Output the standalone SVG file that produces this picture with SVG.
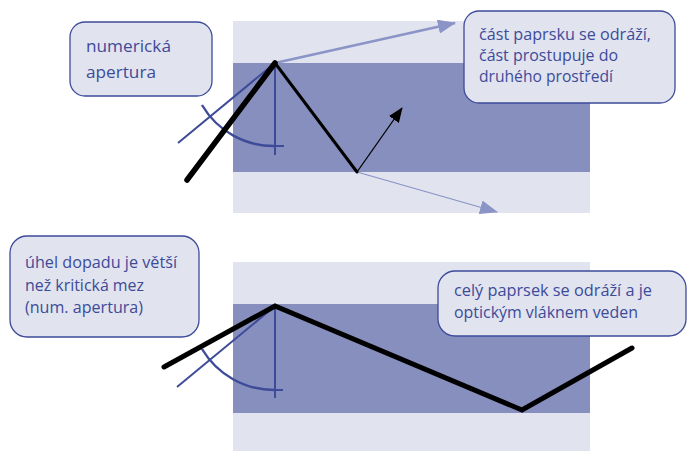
<svg xmlns="http://www.w3.org/2000/svg" width="687" height="451" viewBox="0 0 687 451">
<style>
.light{fill:#e1e3ef}
.dark{fill:#868fbd}
.box{fill:#e1e3ef;stroke:#3d4b99;stroke-width:1.3}
.t{font-family:"Open Sans","Noto Sans",sans-serif;fill:#3d4b99}
.t1{font-size:17px}
.t2{font-size:16px}
.ray{stroke:#000;fill:none;stroke-linecap:round;stroke-linejoin:miter}
.geo{stroke:#3d4b99;fill:none;stroke-width:2}
.geo1{stroke:#3d4b99;fill:none;stroke-width:2.4}
.refl{stroke:#8a94c6;fill:none}
</style>
<defs>
<marker id="ah" markerWidth="15" markerHeight="12" refX="14" refY="6" orient="auto" markerUnits="userSpaceOnUse" viewBox="0 0 15 12"><path d="M0,0 L15,6 L0,12 Z" fill="#000"/></marker>
<marker id="ahl" markerWidth="18" markerHeight="14" refX="17" refY="7" orient="auto" markerUnits="userSpaceOnUse" viewBox="0 0 18 14"><path d="M0,0 L18,7 L0,14 Z" fill="#8a94c6"/></marker>
</defs>
<g id="fiber-top">
<rect class="light" x="233" y="21" width="357" height="192"/>
<rect class="dark" x="233" y="63" width="357" height="109"/>
</g>
<g id="fiber-bottom">
<rect class="light" x="233" y="262" width="357" height="189"/>
<rect class="dark" x="233" y="304" width="357" height="109"/>
</g>
<g id="connectors">
<line class="refl" x1="275" y1="63" x2="455" y2="23" stroke-width="2.5" marker-end="url(#ahl)"/>
<line class="refl" x1="357" y1="172" x2="497" y2="212" stroke-width="1.3" marker-end="url(#ahl)"/>
<line class="geo" x1="178" y1="143" x2="275" y2="63"/>
<line class="geo" x1="275" y1="63" x2="275" y2="155"/>
<line class="geo" x1="270" y1="146" x2="284" y2="146"/>
<path class="geo1" d="M202,105 A83,83 0 0 0 275,146"/>
<polyline class="ray" points="187,180 275,63" stroke-width="5.5"/>
<polyline class="ray" points="275,63 357,172" stroke-width="3"/>
<line x1="357" y1="172" x2="402" y2="108" stroke="#000" stroke-width="1.3" marker-end="url(#ah)"/>
<line class="geo" x1="177" y1="387" x2="275" y2="306"/>
<line class="geo" x1="275" y1="306" x2="275" y2="398"/>
<line class="geo" x1="268" y1="390" x2="283" y2="390"/>
<path class="geo1" d="M202,349 A84,84 0 0 0 275,390"/>
<polyline class="ray" points="164,367 275,306 522,410 632,348" stroke-width="5"/>
</g>
<g id="box-na">
<rect class="box" x="70" y="22" width="142" height="74" rx="15"/>
<text class="t t1" x="86" y="52" textLength="85" lengthAdjust="spacingAndGlyphs">numerická</text>
<text class="t t1" x="86" y="78" textLength="70" lengthAdjust="spacingAndGlyphs">apertura</text>
</g>
<g id="box-part">
<rect class="box" x="464" y="11" width="211" height="92" rx="15"/>
<text class="t t2" x="479" y="40" textLength="172" lengthAdjust="spacingAndGlyphs">část paprsku se odráží,</text>
<text class="t t2" x="479" y="61" textLength="139" lengthAdjust="spacingAndGlyphs">část prostupuje do</text>
<text class="t t2" x="479" y="82" textLength="134" lengthAdjust="spacingAndGlyphs">druhého prostředí</text>
</g>
<g id="box-angle">
<rect class="box" x="10" y="236" width="189" height="101" rx="17"/>
<text class="t t2" x="25" y="268" textLength="152" lengthAdjust="spacingAndGlyphs">úhel dopadu je větší</text>
<text class="t t2" x="25" y="291" textLength="119" lengthAdjust="spacingAndGlyphs">než kritická mez</text>
<text class="t t2" x="25" y="313" textLength="118" lengthAdjust="spacingAndGlyphs">(num. apertura)</text>
</g>
<g id="box-total">
<rect class="box" x="438" y="271" width="248" height="65" rx="17"/>
<text class="t t2" x="454" y="296" textLength="198" lengthAdjust="spacingAndGlyphs">celý paprsek se odráží a je</text>
<text class="t t2" x="454" y="318" textLength="184" lengthAdjust="spacingAndGlyphs">optickým vláknem veden</text>
</g>
</svg>
